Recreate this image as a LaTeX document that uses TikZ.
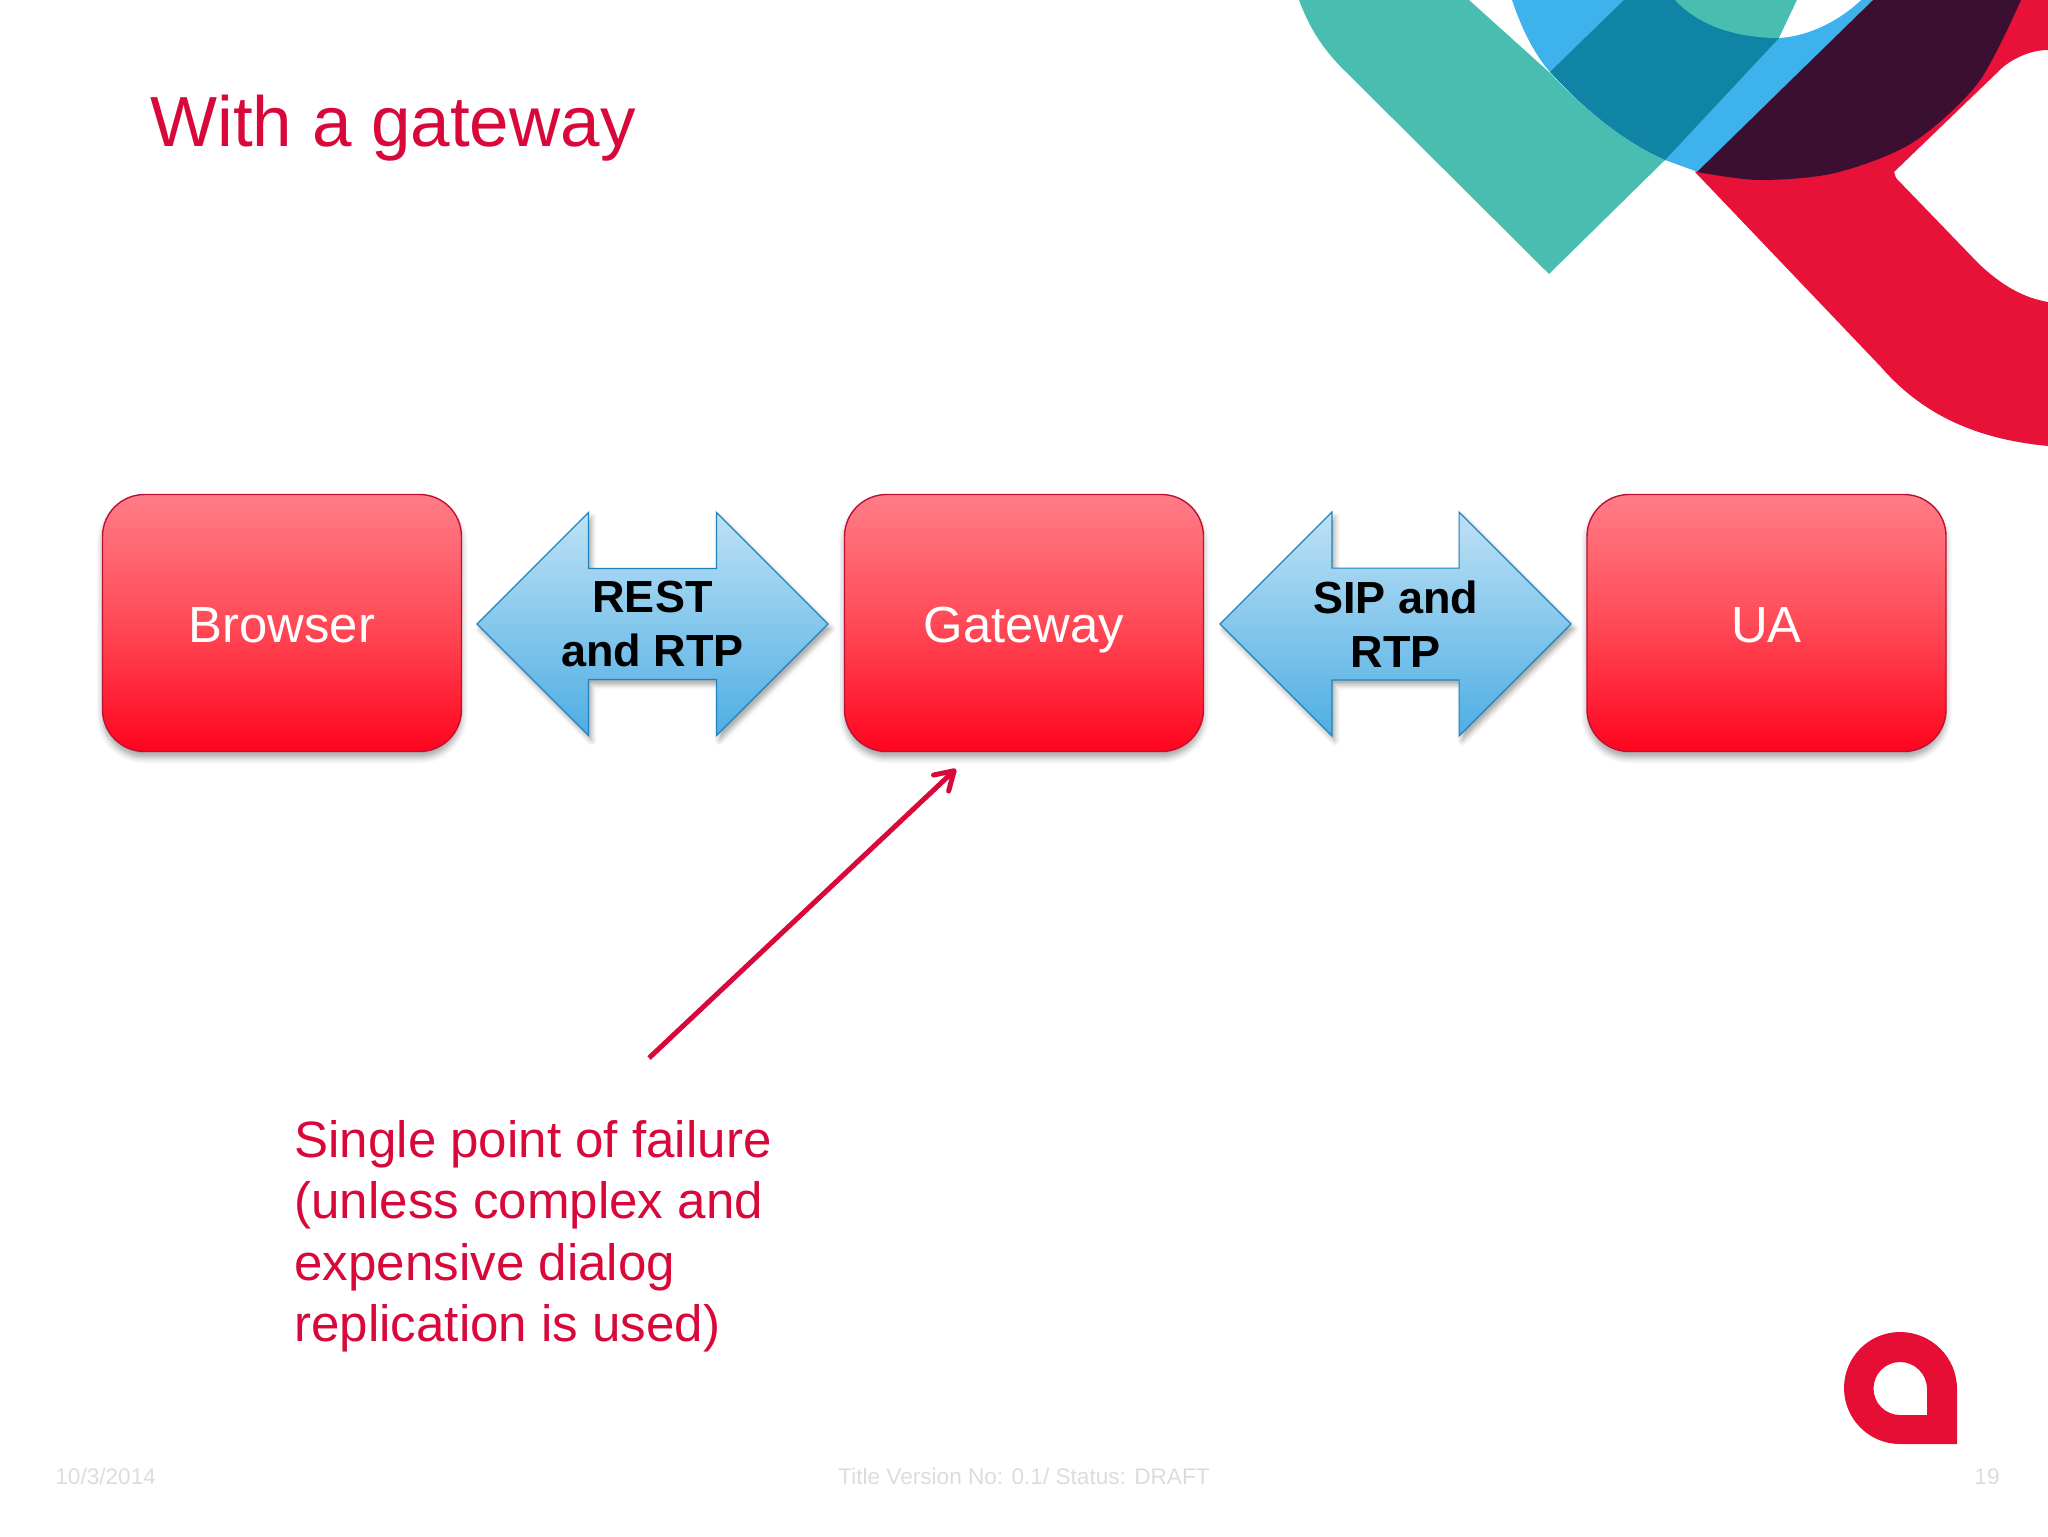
\documentclass[tikz,border=0pt]{standalone}
\usepackage{fontspec}
\setmainfont{Liberation Sans}
\usetikzlibrary{arrows.meta,shadows.blur,shapes.arrows}
\definecolor{slidered}{RGB}{216,8,58}
\definecolor{logored}{RGB}{230,14,52}
\definecolor{footgray}{RGB}{220,220,224}
\tikzset{
  boxnode/.style={draw=boxline, line width=0.7pt, rounded corners=21pt, minimum width=179.5pt, minimum height=128.5pt,
    top color=boxtop, bottom color=boxbot, middle color=boxmid, text=white, text height=19.5pt, text depth=0pt,
    font=\fontsize{25.4}{30}\selectfont,
    blur shadow={shadow opacity=35, shadow xshift=0pt, shadow yshift=-3pt, shadow blur radius=3pt}},
  linknode/.style={double arrow, draw=linkline, line width=0.6pt, double arrow head extend=28pt, double arrow tip angle=90,
    minimum height=175.5pt, inner xsep=1pt, inner ysep=6pt, align=center, top color=linktop, bottom color=linkbot,
    font=\fontsize{22.5}{27}\selectfont\bfseries,
    blur shadow={shadow opacity=35, shadow xshift=1.5pt, shadow yshift=-2.5pt, shadow blur radius=2.5pt}},
  footnode/.style={text=footgray, inner sep=0pt, font=\fontsize{11.3}{13}\selectfont}
}
\definecolor{boxline}{RGB}{190,16,50}
\definecolor{boxtop}{RGB}{255,125,135}
\definecolor{boxmid}{RGB}{255,74,86}
\definecolor{boxbot}{RGB}{255,4,30}
\definecolor{linkline}{RGB}{32,132,188}
\definecolor{linktop}{RGB}{190,225,245}
\definecolor{linkbot}{RGB}{78,174,228}
\definecolor{tealband}{RGB}{74,189,177}
\definecolor{tealdark}{RGB}{15,132,165}
\definecolor{skyblue}{RGB}{62,178,235}
\definecolor{plum}{RGB}{58,15,50}
\definecolor{ribbon}{RGB}{232,18,56}
\begin{document}
\begin{tikzpicture}[x=0.5pt, y=-0.5pt]
  \useasboundingbox (0,0) rectangle (2048,1536);
  % corner artwork
  \fill[ribbon] (1695,172) -- (1881,367) .. controls (1927,420) and (1985,440) .. (2048,446) -- (2048,302)
    .. controls (2025,298) and (2003,287) .. (1978,263) -- (1896,178) -- (1894,172) -- (2003,67)
    .. controls (2018,55) and (2035,50) .. (2048,50) -- (2048,0) -- (2000,0) -- cycle;
  \fill[skyblue] (1512,0) .. controls (1522,30) and (1535,55) .. (1550,72) -- (1665,160) -- (1698,172) -- (1873,0) -- cycle;
  \fill[tealband] (1299,0) .. controls (1310,30) and (1325,52) .. (1347,73) -- (1549,274) -- (1665,160)
    .. controls (1620,140) and (1580,105) .. (1550,73) -- (1469,0) -- cycle;
  \fill[tealdark] (1624,0) -- (1550,72) .. controls (1580,105) and (1620,140) .. (1665,160) -- (1779,38) -- (1797,0) -- cycle;
  \fill[tealband] (1675,0) .. controls (1695,22) and (1730,38) .. (1779,38) -- (1797,0) -- cycle;
  \fill[white] (1779,38) .. controls (1810,36) and (1840,20) .. (1861,0) -- (1797,0) -- cycle;
  \fill[plum] plot[smooth] coordinates {(1697,172) (1759,180) (1835,173) (1912,143) (1978,83) (2021,0)} -- (1873,0) -- cycle;
  % title
  \node[anchor=base west, inner sep=0pt, text=slidered, font=\fontsize{35.5}{40}\selectfont] (title) at (150,147) {With a gateway};
  % boxes
  \node[boxnode] (browser) at (282,623) {Browser};
  \node[boxnode] (gateway) at (1024,623) {Gateway};
  \node[boxnode] (ua) at (1766.5,623) {UA};
  % double arrows
  \node[linknode] (rest) at (652.5,624) {REST\\and RTP};
  \node[linknode] (sip) at (1395.5,624) {SIP and\\RTP};
  % note
  \node[anchor=north west, inner sep=0pt, text=slidered, align=left, font=\fontsize{25.55}{30.7}\selectfont] (note) at (294,1120)
    {Single point of failure\\(unless complex and\\expensive dialog\\replication is used)};
  \coordinate (notetop) at (649,1058);
  \coordinate (gatewaytip) at (956,769);
  \draw[slidered, line width=2.5pt, -{Straight Barb[length=9pt,width=11pt,round]}] (notetop) -- (gatewaytip);
  % logo
  \fill[logored, even odd rule] (1957,1444) -- (1900,1444) arc[start angle=90, delta angle=180, radius=56] 
    arc[start angle=270, delta angle=90, radius=57] -- cycle
    (1927,1415) -- (1900,1415) arc[start angle=90, delta angle=180, radius=26.5] arc[start angle=270, delta angle=90, radius=27] -- cycle;
  % footer
  \node[footnode, anchor=base west] (datefoot) at (55,1484) {10/3/2014};
  \node[footnode, anchor=base] (titlefoot) at (1024,1484) {Title Version No: 0.1/ Status: DRAFT};
  \node[footnode, anchor=base east] (pagefoot) at (2000,1484) {19};
\end{tikzpicture}
\end{document}
